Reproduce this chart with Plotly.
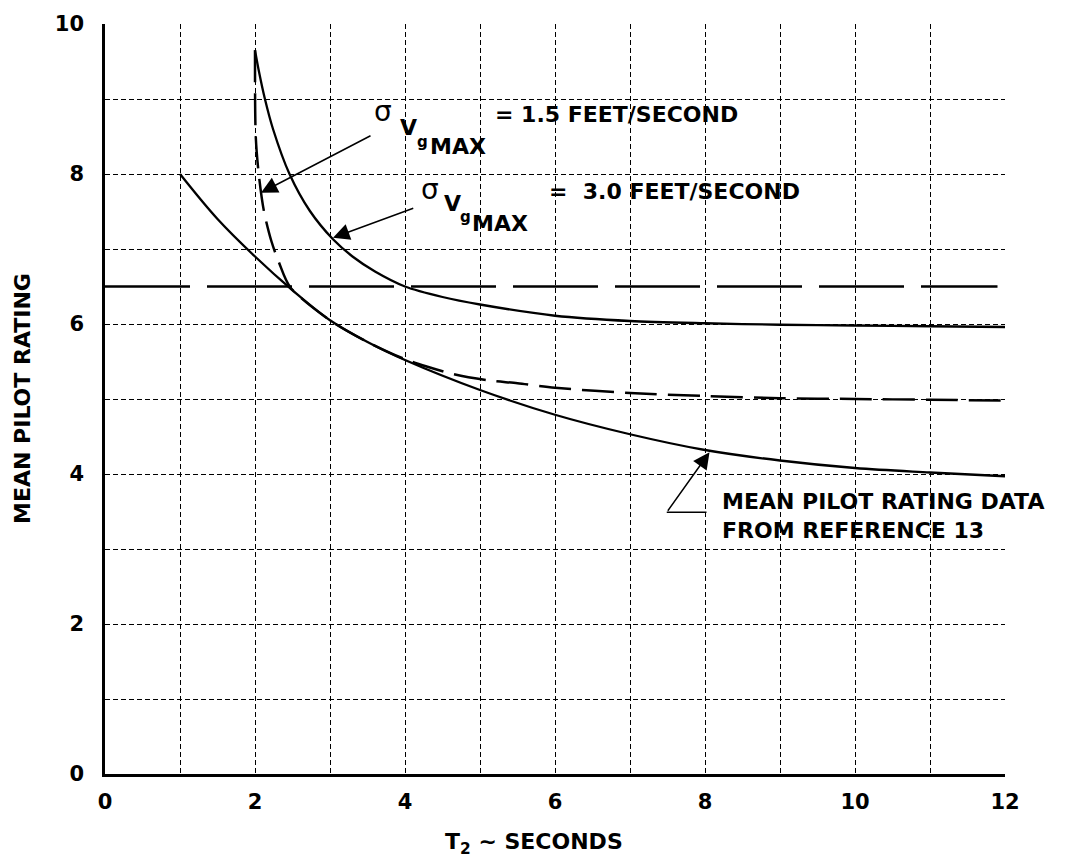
import plotly.graph_objects as go

# T2 (seconds) vs mean pilot rating
ref13_t2 = [1.0, 1.5, 2.0, 2.5, 3.0, 3.5, 4.0, 5.0, 6.0, 7.0, 8.0, 9.0, 10.0, 11.0, 12.0]
ref13_rating = [8.0, 7.4, 6.9, 6.45, 6.05, 5.76, 5.52, 5.12, 4.79, 4.53, 4.32, 4.18, 4.08, 4.02, 3.97]

# sigma Vg MAX = 3.0 ft/s
s30_t2 = [2.0, 2.05, 2.13, 2.24, 2.46, 2.73, 3.04, 3.3, 3.6, 4.0, 4.5, 5.0, 6.0, 7.0, 8.0, 9.0, 10.0, 11.0, 12.0]
s30_rating = [9.65, 9.38, 9.01, 8.6, 8.0, 7.51, 7.13, 6.9, 6.7, 6.5, 6.36, 6.26, 6.11, 6.04, 6.01, 5.99, 5.98, 5.97, 5.96]

# sigma Vg MAX = 1.5 ft/s
s15_t2 = [2.0, 2.01, 2.05, 2.12, 2.22, 2.32, 2.47, 3.0, 3.5, 4.0, 4.3, 4.65, 5.1, 5.5, 6.0, 7.0, 8.0, 9.0, 10.0, 11.0, 12.0]
s15_rating = [9.65, 8.5, 8.0, 7.5, 7.1, 6.82, 6.49, 6.05, 5.76, 5.53, 5.43, 5.33, 5.25, 5.21, 5.15, 5.08, 5.04, 5.01, 5.0, 4.99, 4.98]

# horizontal rating boundary
level_t2 = [0.0, 11.9]
level_rating = [6.5, 6.5]

x_ticks = [0, 2, 4, 6, 8, 10, 12]
y_ticks = [0, 2, 4, 6, 8, 10]

FONT = "DejaVu Sans"
BLACK = "black"

fig = go.Figure()

fig.add_trace(go.Scatter(x=level_t2, y=level_rating, mode="lines",
                         line=dict(color=BLACK, width=2.5, dash="85px,17px")))
fig.add_trace(go.Scatter(x=s15_t2, y=s15_rating, mode="lines",
                         line=dict(color=BLACK, width=2.5, dash="32px,11px",
                                   shape="spline", smoothing=0.8)))
fig.add_trace(go.Scatter(x=ref13_t2, y=ref13_rating, mode="lines",
                         line=dict(color=BLACK, width=2.3, shape="spline", smoothing=1.0)))
fig.add_trace(go.Scatter(x=s30_t2, y=s30_rating, mode="lines",
                         line=dict(color=BLACK, width=2.3, shape="spline", smoothing=0.8)))

grid_style = dict(showgrid=True, gridcolor=BLACK, gridwidth=1.3, griddash="5px,3px")

fig.update_xaxes(range=[0, 12], tickvals=x_ticks, ticktext=[str(v) for v in x_ticks],
                 showline=True, linecolor=BLACK, linewidth=2.5, zeroline=False,
                 ticks="", ticklabelstandoff=7,
                 tickfont=dict(family=FONT, size=21, color=BLACK, weight="bold"),
                 minor=dict(dtick=1, tick0=0, **grid_style), **grid_style)
fig.update_yaxes(range=[0, 10], tickvals=y_ticks, ticktext=[str(v) for v in y_ticks],
                 showline=True, linecolor=BLACK, linewidth=2.5, zeroline=False,
                 ticks="", ticklabelstandoff=14,
                 tickfont=dict(family=FONT, size=21, color=BLACK, weight="bold"),
                 minor=dict(dtick=1, tick0=0, **grid_style), **grid_style)

bold = dict(family=FONT, size=22, color=BLACK, weight="bold")


def label(x, y, text, font=bold, xanchor="center", yshift=4, align="center"):
    fig.add_annotation(x=x, y=y, xref="x", yref="y", text=text, showarrow=False,
                       font=font, xanchor=xanchor, yanchor="middle", yshift=yshift,
                       align=align)


sigma_font = dict(family=FONT, size=28, color=BLACK)
g_font = dict(family=FONT, size=15, color=BLACK, weight="bold")

# sigma Vg MAX = 1.5 label
label(3.71, 8.76, "σ", sigma_font, yshift=6)
label(4.04, 8.57, "V")
label(4.23, 8.37, "g", g_font)
label(4.31, 8.31, "MAX", xanchor="left")
label(5.17, 8.74, "= 1.5 FEET/SECOND", xanchor="left")

# sigma Vg MAX = 3.0 label
label(4.33, 7.72, "σ", sigma_font, yshift=6)
label(4.63, 7.55, "V")
label(4.81, 7.38, "g", g_font)
label(4.87, 7.29, "MAX", xanchor="left")
label(5.89, 7.71, "=  3.0 FEET/SECOND", xanchor="left")

label(8.2, 3.44, "MEAN PILOT RATING DATA<br>FROM REFERENCE 13", xanchor="left",
      yshift=0, align="left")

arrow = dict(xref="x", yref="y", axref="x", ayref="y", text="", showarrow=True,
             arrowhead=2, arrowsize=2.2, arrowwidth=1.5, arrowcolor=BLACK)
fig.add_annotation(x=2.08, y=7.75, ax=3.56, ay=8.52, **arrow)
fig.add_annotation(x=3.04, y=7.15, ax=4.13, ay=7.55, **arrow)
fig.add_annotation(x=8.06, y=4.29, ax=7.49, ay=3.49, **arrow)
fig.add_shape(type="line", xref="x", yref="y", x0=7.49, y0=3.49, x1=8.02, y1=3.49,
              line=dict(color=BLACK, width=1.5))

# axis titles
fig.add_annotation(x=0.4767, y=0, xref="paper", yref="paper", yshift=-69,
                   text="T<sub>2</sub> ∼ SECONDS", showarrow=False, font=bold,
                   xanchor="center", yanchor="middle")
fig.add_annotation(x=-0.0917, y=0.5007, xref="paper", yref="paper", textangle=-90,
                   text="MEAN PILOT RATING", showarrow=False, font=bold,
                   xanchor="center", yanchor="middle")

fig.update_layout(width=1069, height=868, showlegend=False,
                  margin=dict(l=105, r=64, t=17, b=94),
                  paper_bgcolor="white", plot_bgcolor="white",
                  font=dict(family=FONT, color=BLACK))

fig.write_html("out.html")
